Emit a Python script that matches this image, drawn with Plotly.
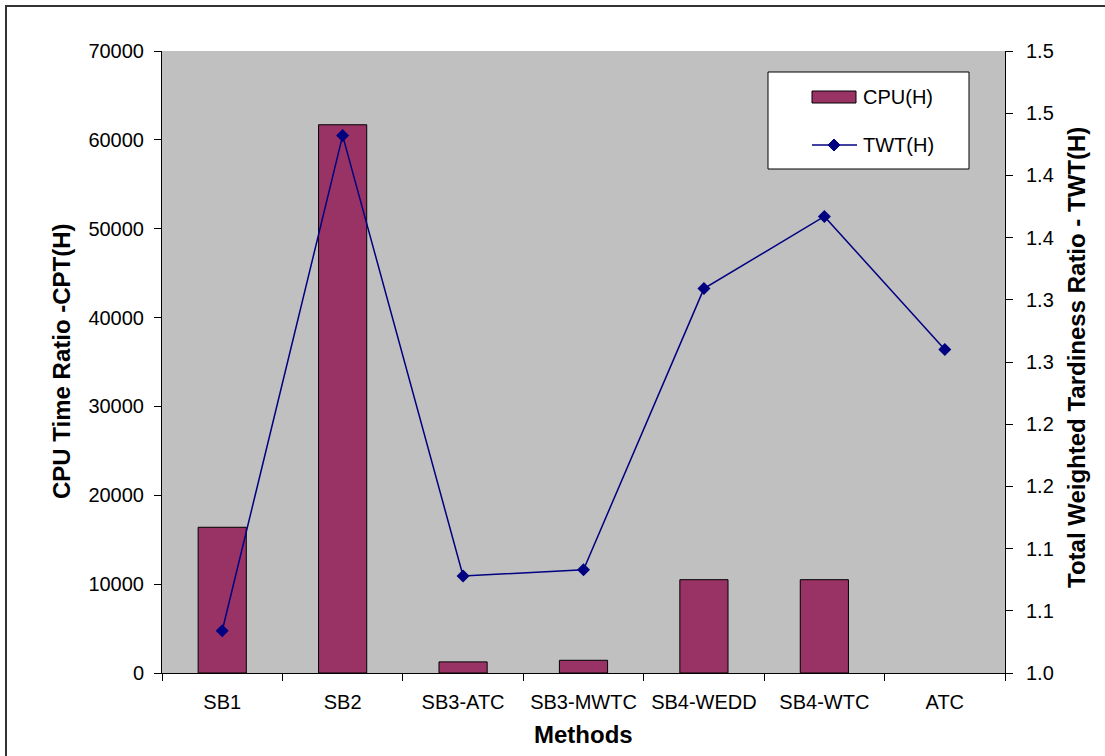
import plotly.graph_objects as go

# Methods compared
methods = ["SB1", "SB2", "SB3-ATC", "SB3-MWTC", "SB4-WEDD", "SB4-WTC", "ATC"]
# CPU time ratio per method (left axis)
cpu_ratio = [16400, 61700, 1250, 1430, 10500, 10500, 0]
# Total weighted tardiness ratio per method (right axis)
twt_ratio = [1.034, 1.432, 1.078, 1.083, 1.309, 1.367, 1.260]

left_ticks = [0, 10000, 20000, 30000, 40000, 50000, 60000, 70000]
right_ticks = [1.0, 1.05, 1.1, 1.15, 1.2, 1.25, 1.3, 1.35, 1.4, 1.45, 1.5]
right_tick_text = ["1.0", "1.1", "1.1", "1.2", "1.2", "1.3", "1.3", "1.4", "1.4", "1.5", "1.5"]

FONT = "Liberation Sans, Arial, sans-serif"
W, H = 1105, 756
ML, MR, MT, MB = 162, 100, 51, 83
PW, PH = W - ML - MR, H - MT - MB

BAR_COLOR = "#993366"
LINE_COLOR = "#000080"


def px_x(p):
    return (p - ML) / PW


def px_y(p):
    return 1 - (p - MT) / PH


fig = go.Figure()
fig.add_trace(go.Bar(
    x=methods, y=cpu_ratio, name="CPU(H)",
    marker=dict(color=BAR_COLOR,
                line=dict(color="black", width=[1 if v > 0 else 0 for v in cpu_ratio])),
    yaxis="y", showlegend=False,
))
fig.add_trace(go.Scatter(
    x=methods, y=twt_ratio, name="TWT(H)", mode="lines+markers",
    line=dict(color=LINE_COLOR, width=1.5),
    marker=dict(symbol="diamond", size=10, color=LINE_COLOR),
    yaxis="y2", showlegend=False,
))

tick_font = dict(family=FONT, size=20, color="black")
title_font = dict(family=FONT, size=24, color="black")

# legend box drawn as shapes and text
lg_x0, lg_x1, lg_y0, lg_y1 = 768, 969, 72, 169
sw_x0, sw_x1 = 812, 856
row1_y, row2_y = 97, 145
dia_cx, dia_r = 834, 6

shapes = [
    dict(type="rect", xref="paper", yref="paper",
         x0=px_x(lg_x0), x1=px_x(lg_x1), y0=px_y(lg_y1), y1=px_y(lg_y0),
         line=dict(color="black", width=1), fillcolor="white"),
    dict(type="rect", xref="paper", yref="paper",
         x0=px_x(sw_x0), x1=px_x(sw_x1), y0=px_y(row1_y + 6), y1=px_y(row1_y - 6),
         line=dict(color="black", width=1), fillcolor=BAR_COLOR),
    dict(type="line", xref="paper", yref="paper",
         x0=px_x(sw_x0), x1=px_x(sw_x1 + 1), y0=px_y(row2_y), y1=px_y(row2_y),
         line=dict(color=LINE_COLOR, width=1.5)),
    dict(type="path", xref="paper", yref="paper",
         path="M {a},{b} L {c},{d} L {e},{f} L {g},{h} Z".format(
             a=px_x(dia_cx - dia_r), b=px_y(row2_y),
             c=px_x(dia_cx), d=px_y(row2_y - dia_r),
             e=px_x(dia_cx + dia_r), f=px_y(row2_y),
             g=px_x(dia_cx), h=px_y(row2_y + dia_r)),
         line=dict(color=LINE_COLOR, width=1), fillcolor=LINE_COLOR),
    # outer chart frame
    dict(type="rect", xref="paper", yref="paper",
         x0=px_x(6), x1=px_x(1200), y0=px_y(820), y1=px_y(6),
         line=dict(color="#333333", width=2), fillcolor="rgba(0,0,0,0)"),
]

annotations = [
    dict(text="CPU(H)", xref="paper", yref="paper", x=px_x(861), y=px_y(row1_y),
         xanchor="left", yanchor="middle", showarrow=False,
         font=dict(family=FONT, size=20, color="black")),
    dict(text="TWT(H)", xref="paper", yref="paper", x=px_x(861), y=px_y(row2_y),
         xanchor="left", yanchor="middle", showarrow=False,
         font=dict(family=FONT, size=20, color="black")),
    dict(text="<b>CPU Time Ratio -CPT(H)</b>", xref="paper", yref="paper",
         x=px_x(61), y=px_y(361), xanchor="center", yanchor="middle",
         textangle=-90, showarrow=False, font=title_font),
    dict(text="<b>Total Weighted Tardiness Ratio - TWT(H)</b>", xref="paper", yref="paper",
         x=px_x(1076), y=px_y(358), xanchor="center", yanchor="middle",
         textangle=-90, showarrow=False, font=title_font),
    dict(text="<b>Methods</b>", xref="paper", yref="paper",
         x=px_x(583), y=px_y(735), xanchor="center", yanchor="middle",
         showarrow=False, font=title_font),
]

# category boundaries, used for the upper halves of the x tick marks
boundaries = [i - 0.5 for i in range(len(methods) + 1)]

fig.update_layout(
    width=W, height=H,
    margin=dict(l=ML, r=MR, t=MT, b=MB, autoexpand=False),
    paper_bgcolor="white", plot_bgcolor="#C0C0C0",
    bargap=0.6,
    font=dict(family=FONT, color="black"),
    showlegend=False,
    xaxis=dict(
        type="category", showgrid=False, showline=True, linecolor="black", linewidth=1,
        ticks="outside", tickson="boundaries", ticklen=7, tickcolor="black",
        tickfont=tick_font, ticklabelstandoff=11,
    ),
    xaxis2=dict(
        type="linear", overlaying="x", side="bottom", range=[-0.5, len(methods) - 0.5],
        tickvals=boundaries, showticklabels=False, showgrid=False, showline=False,
        zeroline=False, ticks="inside", ticklen=6, tickcolor="black",
    ),
    yaxis=dict(
        range=[0, 70000], tickvals=left_ticks, tickformat="d", showgrid=False,
        showline=True, linecolor="black", linewidth=1, zeroline=False,
        ticks="outside", ticklen=7, tickcolor="black", tickfont=tick_font,
        ticklabelstandoff=6,
    ),
    yaxis2=dict(
        range=[1.0, 1.5], overlaying="y", side="right", tickvals=right_ticks,
        ticktext=right_tick_text, showgrid=False, showline=True, linecolor="black",
        linewidth=1, zeroline=False, ticks="outside", ticklen=7, tickcolor="black",
        tickfont=tick_font, ticklabelstandoff=9,
    ),
    # inner halves of the crossing tick marks
    yaxis3=dict(
        range=[0, 70000], overlaying="y", side="left", tickvals=left_ticks,
        showticklabels=False, showgrid=False, showline=False, zeroline=False,
        ticks="inside", ticklen=7, tickcolor="black",
    ),
    yaxis4=dict(
        range=[1.0, 1.5], overlaying="y", side="right", tickvals=right_ticks,
        showticklabels=False, showgrid=False, showline=False, zeroline=False,
        ticks="inside", ticklen=7, tickcolor="black",
    ),
    shapes=shapes,
    annotations=annotations,
)

fig.write_html("out.html")
